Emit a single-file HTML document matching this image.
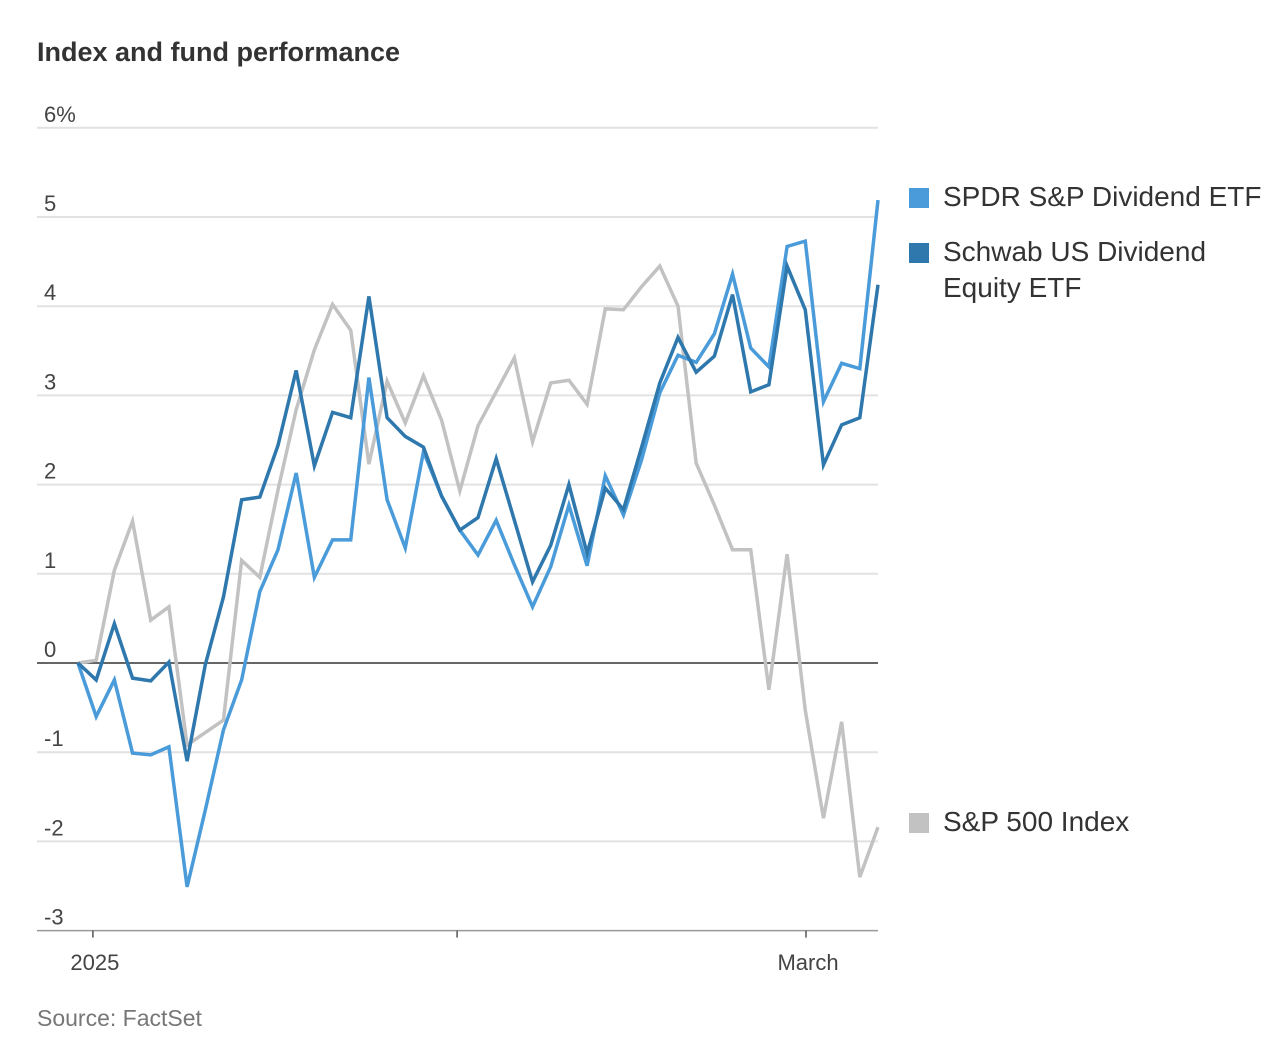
<!DOCTYPE html>
<html><head><meta charset="utf-8"><style>
body{margin:0;background:#fff;width:1288px;height:1058px;overflow:hidden;font-family:"Liberation Sans",sans-serif}
</style></head><body>
<svg id="chart" width="1288" height="1058" xmlns="http://www.w3.org/2000/svg" font-family="Liberation Sans, sans-serif">
<text x="37" y="61" font-size="27" font-weight="bold" fill="#333">Index and fund performance</text>
<g id="grid"></g><g id="lines"></g>
<text x="37" y="1026" font-size="23" fill="#777">Source: FactSet</text>
<g>
<rect x="909" y="188" width="20" height="20" fill="#4a9bd9"/>
<text x="943" y="206" font-size="28" fill="#333">SPDR S&amp;P Dividend ETF</text>
<rect x="909" y="243" width="20" height="20" fill="#2f78ad"/>
<text x="943" y="261" font-size="28" fill="#333">Schwab US Dividend</text>
<text x="943" y="297" font-size="28" fill="#333">Equity ETF</text>
<rect x="909" y="813" width="20" height="20" fill="#c2c2c2"/>
<text x="943" y="831" font-size="28" fill="#333">S&amp;P 500 Index</text>
</g>
</svg>
<script>
const yTicks=[6,5,4,3,2,1,0,-1,-2,-3];
const yTickLabels=["6%","5","4","3","2","1","0","-1","-2","-3"];
const xTickPos=[0.82,20.85,40.04];
const xTickLabels=["2025","","March"];
const spdr=[0,-0.6,-0.19,-1.01,-1.03,-0.94,-2.51,-1.65,-0.75,-0.19,0.8,1.27,2.13,0.96,1.38,1.38,3.2,1.83,1.29,2.37,1.87,1.49,1.21,1.6,1.1,0.63,1.08,1.77,1.09,2.1,1.66,2.28,3.03,3.45,3.37,3.69,4.36,3.53,3.32,4.67,4.73,2.93,3.36,3.3,5.19];
const schwab=[0,-0.19,0.44,-0.17,-0.2,0.01,-1.1,-0.02,0.74,1.83,1.86,2.44,3.28,2.21,2.81,2.75,4.11,2.75,2.54,2.42,1.87,1.49,1.63,2.29,1.6,0.91,1.32,2.0,1.23,1.96,1.72,2.42,3.14,3.65,3.26,3.44,4.13,3.04,3.12,4.45,3.96,2.22,2.67,2.75,4.24];
const sp500=[0,0.03,1.04,1.59,0.48,0.63,-0.92,-0.78,-0.64,1.15,0.96,1.94,2.84,3.51,4.02,3.73,2.23,3.16,2.69,3.22,2.72,1.93,2.66,3.04,3.42,2.48,3.14,3.17,2.9,3.97,3.96,4.22,4.45,4.0,2.24,1.77,1.27,1.27,-0.3,1.22,-0.53,-1.74,-0.66,-2.4,-1.84];
const NS='http://www.w3.org/2000/svg';
const x0=78,x1=878,y0=663,unit=89.2;
const xs=i=>x0+(x1-x0)*i/(spdr.length-1);
const ys=v=>y0-v*unit;
function mk(tag,attrs,parent){const e=document.createElementNS(NS,tag);for(const k in attrs)e.setAttribute(k,attrs[k]);parent.appendChild(e);return e;}
const grid=document.getElementById('grid');
yTicks.forEach((t,i)=>{
  const y=ys(t);
  if(t!==0&&t!==-3){const l=mk('line',{x1:37,x2:x1,y1:y,y2:y,stroke:'#e2e2e2','stroke-width':2},grid);
  
  }
  const tx=mk('text',{x:44,y:y-6,'font-size':22,fill:'#444'},grid);tx.textContent=yTickLabels[i];
  
  
});
const ax=mk('line',{x1:37,x2:x1,y1:ys(-3),y2:ys(-3),stroke:'#999','stroke-width':1.5},grid);


xTickPos.forEach((p,i)=>{
  const x=xs(p);
  const tk=mk('line',{x1:x,x2:x,y1:ys(-3),y2:ys(-3)+7,stroke:'#555','stroke-width':1.5},grid);
  
  
  if(xTickLabels[i]){const tx=mk('text',{x:x+2,y:970,'font-size':22,fill:'#444','text-anchor':'middle'},grid);tx.textContent=xTickLabels[i];
  
  }
});
const lines=document.getElementById('lines');
const z=mk('line',{x1:37,x2:x1,y1:y0,y2:y0,stroke:'#333','stroke-width':1.5},lines);


function series(data,color,name){
  const p=mk('polyline',{points:data.map((v,i)=>xs(i)+','+ys(v)).join(' '),fill:'none',stroke:color,'stroke-width':3.5,'stroke-linejoin':'miter'},lines);
  
  
}
series(sp500,'#c2c2c2','sp500-line');
series(spdr,'#4a9bd9','spdr-line');
series(schwab,'#2f78ad','schwab-line');
</script>
</body></html>
